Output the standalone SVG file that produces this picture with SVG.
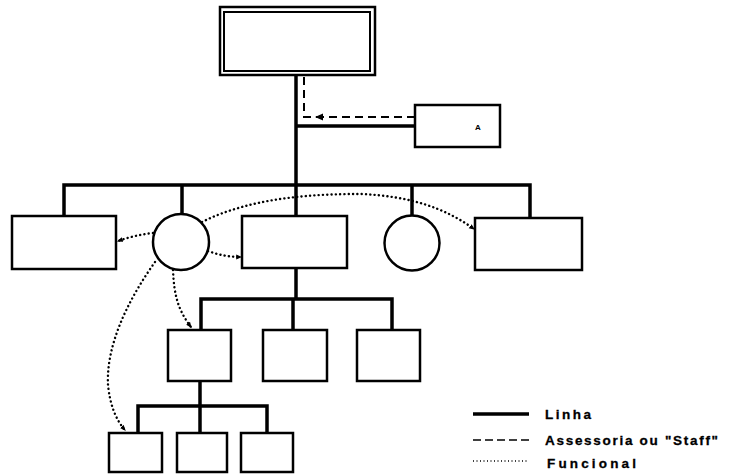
<svg xmlns="http://www.w3.org/2000/svg" width="730" height="474" viewBox="0 0 730 474">
  <style>
    .box { fill: #fff; stroke: #000; stroke-width: 2.5; }
    .line { fill: none; stroke: #000; stroke-width: 3.5; }
    .staff { fill: none; stroke: #000; stroke-width: 2; stroke-dasharray: 8 5; }
    .func { fill: none; stroke: #000; stroke-width: 2.4; stroke-dasharray: 0.1 4.2; stroke-linecap: round; }
    .legend { font-family: "Liberation Sans", Arial, sans-serif; font-weight: bold; font-size: 13.5px; letter-spacing: 2px; fill: #000; stroke: #000; stroke-width: 0.3; }
  </style>
  <defs>
    <marker id="fhead" viewBox="0 0 10 10" refX="8" refY="5" markerWidth="6" markerHeight="6" orient="auto" markerUnits="userSpaceOnUse">
      <path d="M0,1 L10,5 L0,9 z" fill="#000"/>
    </marker>
  </defs>

  <!-- connectors -->
  <g id="connectors">
    <!-- line of authority -->
    <path class="line" d="M296,75 V216"/>
    <path class="line" d="M296,126 H415"/>
    <path class="line" d="M64,216 V185 H530 V218"/>
    <path class="line" d="M182,185 V214"/>
    <path class="line" d="M412,185 V215"/>
    <path class="line" d="M296,268 V299"/>
    <path class="line" d="M201,330 V299 H392 V330"/>
    <path class="line" d="M293,299 V330"/>
    <path class="line" d="M200,381 V406"/>
    <path class="line" d="M138,433 V406 H267 V433"/>
    <path class="line" d="M200,406 V433"/>
    <!-- staff -->
    <path class="staff" d="M415,117 H304 V75"/>
    <path d="M323,113.5 L315,117 L323,120.5 z" fill="#000"/>
    <!-- functional -->
    <path class="func" d="M153,233 Q135,235 118,241" marker-end="url(#fhead)"/>
    <path class="func" d="M208,251 Q224,257 241,257" marker-end="url(#fhead)"/>
    <path class="func" d="M202,222 C250,198 310,194 360,194 C410,196 445,208 474,229" marker-end="url(#fhead)"/>
    <path class="func" d="M173,270 C174,295 178,310 191,327" marker-end="url(#fhead)"/>
    <path class="func" d="M155,262 C128,300 106,345 108,385 C110,405 116,420 125,430" marker-end="url(#fhead)"/>
  </g>

  <!-- top unit -->
  <g id="top">
    <rect class="box" x="220" y="7" width="155" height="68"/>
    <rect fill="none" stroke="#000" stroke-width="2" x="224" y="12" width="146" height="59"/>
  </g>

  <!-- staff unit -->
  <g id="staff-unit">
    <rect class="box" x="415" y="105" width="85" height="42"/>
    <text x="478" y="130" font-family="Liberation Sans, Arial, sans-serif" font-size="8" font-weight="bold" text-anchor="middle">A</text>
  </g>

  <!-- second level -->
  <g id="unit-left"><rect class="box" x="12" y="216" width="104" height="53"/></g>
  <g id="circle-left"><circle class="box" cx="181" cy="242" r="28"/></g>
  <g id="unit-center"><rect class="box" x="242" y="216" width="105" height="52"/></g>
  <g id="circle-right"><circle class="box" cx="412" cy="243" r="27.5"/></g>
  <g id="unit-right"><rect class="box" x="475" y="218" width="107" height="52"/></g>

  <!-- third level -->
  <g id="sub-1"><rect class="box" x="168" y="330" width="63" height="51"/></g>
  <g id="sub-2"><rect class="box" x="263" y="330" width="64" height="51"/></g>
  <g id="sub-3"><rect class="box" x="357" y="330" width="63" height="51"/></g>

  <!-- fourth level -->
  <g id="sec-1"><rect class="box" x="109" y="433" width="53" height="39"/></g>
  <g id="sec-2"><rect class="box" x="177" y="433" width="50" height="39"/></g>
  <g id="sec-3"><rect class="box" x="241" y="433" width="52" height="39"/></g>

  <!-- legend -->
  <g id="legend">
    <path d="M473,414 H529" stroke="#000" stroke-width="3.5"/>
    <text class="legend" x="545" y="419" textLength="48" lengthAdjust="spacing">Linha</text>
    <path d="M473,440 H529" stroke="#000" stroke-width="1.6" stroke-dasharray="8 4"/>
    <text class="legend" x="545" y="445" textLength="175" lengthAdjust="spacing">Assessoria ou "Staff"</text>
    <path d="M473,461 H529" stroke="#000" stroke-width="1.5" stroke-dasharray="1 2.5"/>
    <text class="legend" x="547" y="468" textLength="91" lengthAdjust="spacing">Funcional</text>
  </g>
</svg>
